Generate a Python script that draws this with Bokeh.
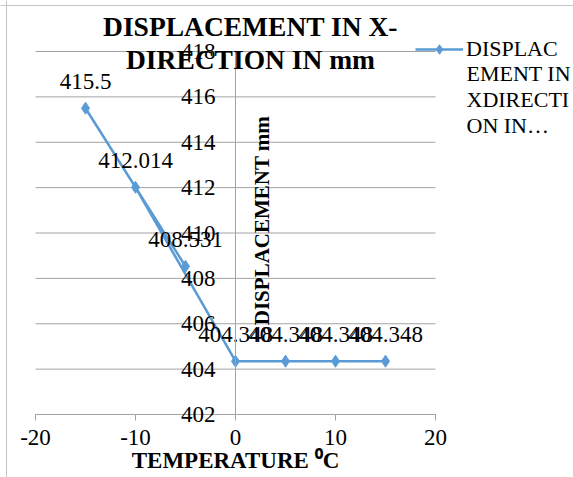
import math
from bokeh.plotting import figure
from bokeh.models import (Range1d, FixedTicker, LinearAxis, Label, Legend,
                          LegendItem, Span)
from bokeh.core.properties import value
from bokeh.embed import file_html
from bokeh.resources import INLINE

# ---------------- data ----------------
temperature = [-15, -5, -10, 0, 5, 10, 15]
displacement = [415.5, 408.531, 412.014, 404.348, 404.348, 404.348, 404.348]
point_labels = [f"{v:g}" for v in displacement]
x_ticks = [-20, -10, 0, 10, 20]
x_tick_labels = ["-20", "-10", "0", "10", "20"]
y_ticks = [402, 404, 406, 408, 410, 412, 414, 416, 418]
title_lines = ["DISPLACEMENT IN X-", "DIRECTION IN mm"]
x_title = "TEMPERATURE \u2070C"
y_title = "DISPLACEMENT mm"
legend_lines = ["DISPLAC", "EMENT IN", "XDIRECTI", "ON IN\u2026"]

# ---------------- layout ----------------
W, H = 573, 477
FONT = "Liberation Serif"
BLUE = "#5B9BD5"
GRID = "#A3A3A3"
FS = "23px"
LFS = "22px"
left_px, right_px, top_px, bottom_px = 35, 435, 51, 414
xs = (right_px - left_px) / (x_ticks[-1] - x_ticks[0])
ys = (bottom_px - top_px) / (y_ticks[-1] - y_ticks[0])
x_range = Range1d(x_ticks[0] - left_px / xs, x_ticks[-1] + (W - right_px) / xs)
y_range = Range1d(y_ticks[0] - (H - bottom_px) / ys, y_ticks[-1] + top_px / ys)

p = figure(width=W, height=H, x_range=x_range, y_range=y_range,
           output_backend="svg", toolbar_location=None, min_border=0,
           title=None, x_axis_type=None, y_axis_type=None)
p.outline_line_color = None
p.background_fill_color = "white"
p.border_fill_color = "white"

# chart-area border (left and top edges visible)
p.add_layout(Span(location=6, dimension="height", location_units="screen",
                  line_color="#C4C4C4", line_width=1))
p.add_layout(Span(location=H - 5, dimension="width", location_units="screen",
                  line_color="#C4C4C4", line_width=1))

# horizontal gridlines
p.segment(x0=[x_ticks[0]] * len(y_ticks), x1=[x_ticks[-1]] * len(y_ticks),
          y0=y_ticks, y1=y_ticks, line_color=GRID, line_width=1)

# axes
xaxis = LinearAxis(fixed_location=y_ticks[0], bounds=(x_ticks[0], x_ticks[-1]),
                   ticker=FixedTicker(ticks=x_ticks))
xaxis.major_label_overrides = dict(zip(x_ticks, x_tick_labels))
xaxis.axis_line_color = GRID
xaxis.major_tick_line_color = GRID
xaxis.major_tick_out = 6
xaxis.major_tick_in = 0
xaxis.minor_tick_line_color = None
xaxis.major_label_text_font = FONT
xaxis.major_label_text_font_size = FS
xaxis.major_label_text_color = "black"
xaxis.major_label_standoff = 9
xaxis.axis_label = x_title
xaxis.axis_label_text_font = FONT
xaxis.axis_label_text_font_size = FS
xaxis.axis_label_text_font_style = "bold"
xaxis.axis_label_text_color = "black"
xaxis.axis_label_standoff = 0
p.add_layout(xaxis, "below")

yaxis = LinearAxis(fixed_location=0, bounds=(y_ticks[0], y_ticks[-1]),
                   ticker=FixedTicker(ticks=y_ticks))
yaxis.axis_line_color = GRID
yaxis.major_tick_line_color = None
yaxis.major_tick_out = 0
yaxis.major_tick_in = 0
yaxis.minor_tick_line_color = None
yaxis.major_label_text_font = FONT
yaxis.major_label_text_font_size = FS
yaxis.major_label_text_color = "black"
yaxis.major_label_standoff = 20
p.add_layout(yaxis, "left")

# series
r_line = p.line(temperature, displacement, line_color=BLUE, line_width=2.5)
r_pts = p.scatter(temperature, displacement, marker="diamond", size=12,
                  fill_color=BLUE, line_color=BLUE)
p.text(x=temperature, y=displacement, text=point_labels, text_align="center",
       text_baseline="middle", y_offset=-27, text_font=value(FONT),
       text_font_size=FS, text_color="black")

# title
for i, t in enumerate(title_lines):
    p.add_layout(Label(x=250, y=H - 26 - 33 * i, x_units="screen", y_units="screen",
                       text=t, text_align="center", text_baseline="middle",
                       text_font=FONT, text_font_size="27.5px",
                       text_font_style="bold", text_color="black"))

# y-axis title
p.add_layout(Label(x=261, y=H - 220, x_units="screen", y_units="screen",
                   text=y_title, angle=math.pi / 2, text_align="center",
                   text_baseline="middle", text_font=FONT, text_font_size="21px",
                   text_font_style="bold", text_color="black"))

# legend (first line with the glyph, wrapped continuation below)
legend = Legend(items=[LegendItem(label=legend_lines[0], renderers=[r_line, r_pts])],
                location=(415, H - 62))
legend.border_line_color = None
legend.background_fill_alpha = 0
legend.padding = 0
legend.margin = 0
legend.glyph_width = 48
legend.glyph_height = 24
legend.label_height = 24
legend.label_standoff = 3
legend.label_text_font = FONT
legend.label_text_font_size = LFS
legend.label_text_color = "black"
p.add_layout(legend)

p.add_layout(Label(x=466, y=H - 60, x_units="screen", y_units="screen",
                   text="\n".join(legend_lines[1:]), text_align="left",
                   text_baseline="top", text_font=FONT, text_font_size=LFS,
                   text_line_height=1.05, text_color="black"))

open("out.html", "w").write(file_html(p, INLINE))
